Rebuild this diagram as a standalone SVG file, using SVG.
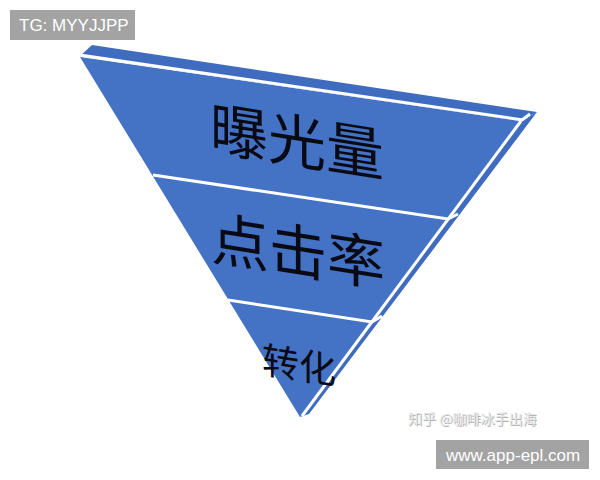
<svg xmlns="http://www.w3.org/2000/svg" width="600" height="480" viewBox="0 0 600 480">
<style>
.face{fill:#4472C4}
.side{fill:#3F6CBE}
.sep{stroke:#FFFFFF;stroke-width:3;fill:none;stroke-linecap:butt}
.lbl{font-family:"Noto Sans CJK SC","Noto Sans",sans-serif;fill:#0A0A14}
.tag{fill:#A3A3A3}
.tagt{font-family:"Liberation Sans",Arial,sans-serif;fill:#FFFFFF}
.wm{font-family:"Noto Sans CJK SC","Noto Sans",sans-serif;font-size:14px}
</style>
<rect width="600" height="480" fill="#FFFFFF"/>
<g id="funnel">
  <polygon class="side" points="80,56 92,45 537,112 521,121"/>
  <polygon class="side" points="521,121 537,112 309,414 300,417"/>
  <polygon class="face" points="80,57 521,121 300,417"/>
</g>
<g id="connectors">
  <line class="sep" x1="80" y1="55" x2="523" y2="120"/>
  <line class="sep" x1="522" y1="120" x2="530" y2="114"/>
  <line class="sep" x1="521" y1="121" x2="302" y2="416"/>
  <polyline class="sep" points="153,175 448,219 458,214"/>
  <polyline class="sep" points="228,300 372,322 382,316"/>
</g>
<g id="node-exposure">
  <text class="lbl" font-size="58" transform="translate(210,149) skewY(9)">曝光量</text>
</g>
<g id="node-ctr">
  <text class="lbl" font-size="58" transform="translate(211,259) skewY(9)">点击率</text>
</g>
<g id="node-conversion">
  <text class="lbl" font-size="37" transform="translate(262,373) skewY(9)">转化</text>
</g>
<g id="tag-tg">
  <rect class="tag" x="10" y="10" width="125" height="30"/>
  <text class="tagt" x="19" y="31" font-size="17">TG: MYYJJPP</text>
</g>
<g id="watermark">
  <text class="wm" x="409" y="425" fill="#B4B4B4">知乎 @咖啡冰手出海</text>
  <text class="wm" x="408" y="424" fill="#E6E6E6">知乎 @咖啡冰手出海</text>
</g>
<g id="tag-url">
  <rect class="tag" x="436" y="440" width="153" height="29"/>
  <text class="tagt" x="446" y="461" font-size="17">www.app-epl.com</text>
</g>
</svg>
